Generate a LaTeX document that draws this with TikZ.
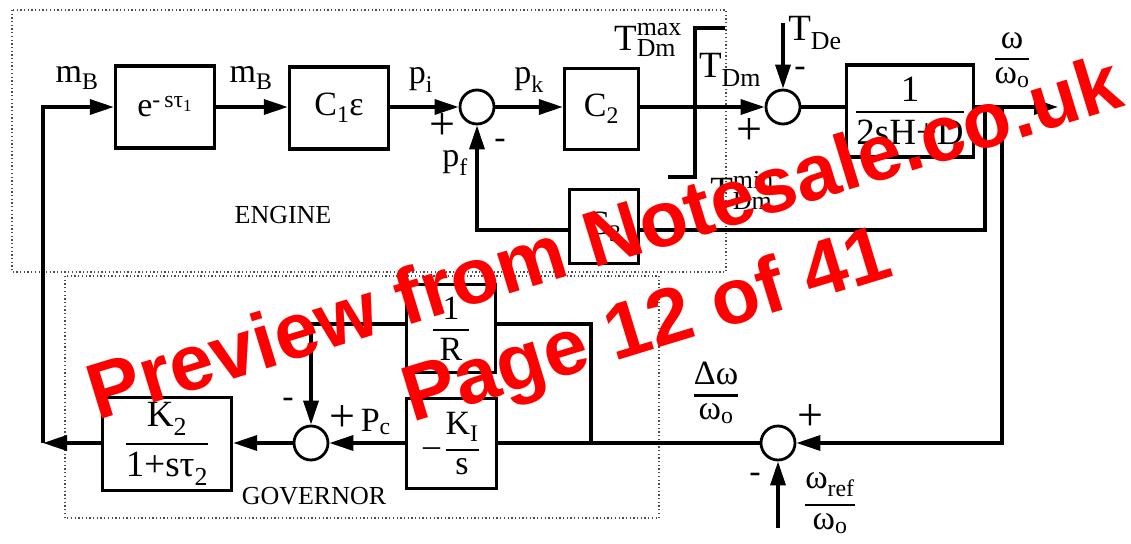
\documentclass[tikz,border=0pt]{standalone}
\usepackage{amsmath}
\usepackage{fontspec}
\setmainfont{Liberation Serif}
\newfontfamily\wmfont{Liberation Sans}
\usetikzlibrary{arrows.meta}
\newcommand\tx[1]{\text{#1}}
\newcommand\fr[2]{\genfrac{}{}{2.4pt}{0}{#1}{#2}}
\newcommand\pls{{\fontsize{46}{46}\selectfont +}}
\begin{document}
\begin{tikzpicture}[x=1pt,y=-1pt, font=\fontsize{34}{40}\selectfont,
  ln/.style={line width=3.4pt},
  arr/.style={ln,-{Triangle[length=24pt,width=15pt]}},
  blk/.style={draw,line width=3.4pt,inner sep=0pt,rectangle},
  sumj/.style={draw,circle,line width=2.8pt,minimum size=34pt,inner sep=0pt},
  lbl/.style={inner sep=0pt},
  grp/.style={line width=1.3pt,black!70,dash pattern=on 1.3pt off 2.4pt},
  small/.style={font=\fontsize{26}{30}\selectfont},
  big/.style={font=\fontsize{37}{42}\selectfont},
  wm/.style={text=red,font=\wmfont\bfseries\fontsize{79}{90}\selectfont,rotate=17,anchor=base,inner sep=0pt}
]
\useasboundingbox (0,0) rectangle (1131,543);
% group frames
\draw[grp] (12,10) rectangle (726,272);
\draw[grp] (65,276) rectangle (659,518);
% blocks
\node[blk,minimum width=99pt,minimum height=82pt] (eb) at (165,107) {$\tx{e}^{\tx{-\,sτ}_{\tx{1}}}$};
\node[blk,minimum width=99pt,minimum height=82pt] (c1) at (339,108) {$\tx{C}_{\tx{1}}\tx{ε}$};
\node[sumj] (s1) at (477,107) {};
\node[blk,minimum width=74pt,minimum height=81pt] (c2) at (601.5,109) {$\tx{C}_{\tx{2}}$};
\node[sumj] (s2) at (783,107) {};
\node[blk,minimum width=127pt,minimum height=92pt,big] (pl) at (910,111) {$\fr{\tx{1}}{\tx{2sH+D}}$};
\node[blk,minimum width=69pt,minimum height=74pt] (c3) at (604,226.5) {$\tx{C}_{\tx{3}}$};
\node[blk,minimum width=89pt,minimum height=88pt] (r) at (451,328.5) {$\fr{\tx{1}}{\;\tx{R}\;}$};
\node[blk,minimum width=90pt,minimum height=90pt] (ki) at (451.5,443.5) {$\tx{–}\,\fr{\tx{K}_{\tx{I}}}{\tx{s}}$};
\node[blk,minimum width=129pt,minimum height=93pt,big] (k2) at (167,444) {$\fr{\tx{K}_{\tx{2}}}{\tx{1+sτ}_{\tx{2}}}$};
\node[sumj] (s3) at (778,443) {};
\node[sumj] (s4) at (311,443) {};
% labels
\node[lbl] (mB1) at (77,78) {$\tx{m}_{\tx{B}}$};
\node[lbl] (mB2) at (251,78) {$\tx{m}_{\tx{B}}$};
\node[lbl] (lpi) at (421,80) {$\tx{p}_{\tx{i}}$};
\node[lbl] (lpk) at (529,80) {$\tx{p}_{\tx{k}}$};
\node[lbl] (lpf) at (455,163) {$\tx{p}_{\tx{f}}$};
\node[lbl] (pl1) at (442,127) {\pls};
\node[lbl] (mi1) at (500,144) {-};
\node[lbl,big] (tmax) at (648,40) {$\tx{T}^{\tx{max}}_{\tx{Dm}}$};
\node[lbl,big] (tdm) at (730,70) {$\tx{T}_{\tx{Dm}}$};
\node[lbl,big] (tmin) at (742,190) {$\tx{T}^{\tx{min}}_{\tx{Dm}}$};
\node[lbl] (pl2) at (749,132) {\pls};
\node[lbl,big] (tde) at (815,33) {$\tx{T}_{\tx{De}}$};
\node[lbl] (mi2) at (800,72) {-};
\node[lbl] (wo) at (1012,60) {$\fr{\tx{ω}}{\tx{ω}_{\tx{o}}}$};
\node[lbl,small] (eng) at (283,215) {ENGINE};
\node[lbl] (dw) at (716,393) {$\fr{\tx{Δω}}{\tx{ω}_{\tx{o}}}$};
\node[lbl] (pl3) at (810,417) {\pls};
\node[lbl] (mi3) at (755,478) {-};
\node[lbl] (wr) at (830,503) {$\fr{\tx{ω}_{\tx{ref}}}{\tx{ω}_{\tx{o}}}$};
\node[lbl] (mi4) at (288,403) {-};
\node[lbl] (pc) at (360,420) {\pls\,$\tx{P}_{\tx{c}}$};
\node[lbl,small] (gov) at (314,496) {GOVERNOR};
% coordinates
\coordinate (tl) at (43,107);
\coordinate (bl) at (43,443);
\coordinate (satT) at (695,28);
\coordinate (satTR) at (725,28);
\coordinate (satB) at (695,177);
\coordinate (satBL) at (668,177);
\coordinate (tdeS) at (783,23);
\coordinate (out) at (1058,107);
\coordinate (b1) at (985,107);
\coordinate (b1d) at (985,230);
\coordinate (b2) at (1002,107);
\coordinate (wrS) at (778,528);
\coordinate (j) at (591,443);
\coordinate (jt) at (591,324);
\coordinate (rc) at (311,324);
% connectors
\draw[arr] (bl) -- (tl) -- (eb.west);
\draw[arr] (k2.west |- bl) -- (bl);
\draw[arr] (eb.east) -- (eb.east -| c1.west);
\draw[arr] (eb.east -| c1.east) -- (s1.west);
\draw[arr] (s1.east) -- (s1.east -| c2.west);
\draw[arr] (s1.east -| c2.east) -- (s2.west);
\draw[ln] (satBL) -- (satB) -- (satT) -- (satTR);
\draw[arr] (tdeS) -- (s2.north);
\draw[ln] (s2.east) -- (s2.east -| pl.west);
\draw[arr] (s2.east -| pl.east) -- (out);
\draw[ln] (b1) -- (b1d) -- (b1d -| c3.east);
\draw[arr] (b1d -| c3.west) -| (s1.south);
\draw[arr] (b2) |- (s3.east);
\draw[arr] (wrS) -- (s3.south);
\draw[ln] (s3.west) -- (s3.west -| ki.east);
\draw[ln] (j) -- (jt) -- (jt -| r.east);
\draw[arr] (jt -| r.west) -- (rc) -- (s4.north);
\draw[arr] (s4.east -| ki.west) -- (s4.east);
\draw[arr] (s4.west) -- (s4.west -| k2.east);
% watermark
\node[wm] (wm1) at (612,263) {Preview from Notesale.co.uk};
\node[wm] (wm2) at (654,349) {Page 12 of 41};
\end{tikzpicture}
\end{document}
